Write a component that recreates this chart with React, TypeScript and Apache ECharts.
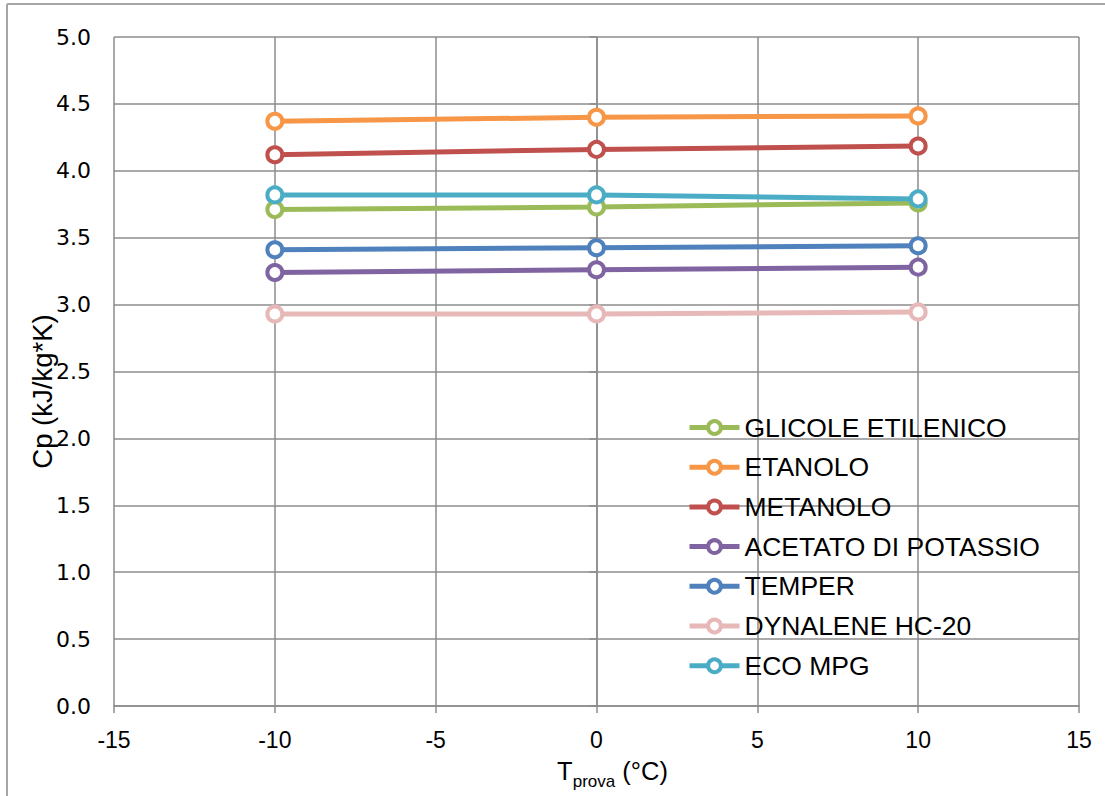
import React, { useEffect, useRef } from "react";
import * as echarts from "echarts";

// Test temperatures (°C)
const temperatures = [-10, 0, 10];

// Specific heat Cp (kJ/kg*K) per fluid
const glicoleEtilenico = [3.71, 3.73, 3.76];
const etanolo = [4.37, 4.40, 4.41];
const metanolo = [4.12, 4.16, 4.185];
const acetatoDiPotassio = [3.24, 3.26, 3.28];
const temper = [3.41, 3.425, 3.44];
const dynalene = [2.93, 2.93, 2.945];
const ecoMpg = [3.82, 3.82, 3.79];

const seriesDefs = [
  { name: "GLICOLE ETILENICO", values: glicoleEtilenico, color: "#9BBB59" },
  { name: "ETANOLO", values: etanolo, color: "#F79646" },
  { name: "METANOLO", values: metanolo, color: "#C0504D" },
  { name: "ACETATO DI POTASSIO", values: acetatoDiPotassio, color: "#8064A2" },
  { name: "TEMPER", values: temper, color: "#4F81BD" },
  { name: "DYNALENE HC-20", values: dynalene, color: "#E6B9B8" },
  { name: "ECO MPG", values: ecoMpg, color: "#4BACC6" },
];

const FONT = "'Liberation Sans', Arial, sans-serif";
const WIDE_FONT = "'DejaVu Sans', Verdana, sans-serif";
const GRID_COLOR = "#8c8c8c";

export default function App() {
  const ref = useRef<HTMLDivElement>(null);

  useEffect(() => {
    if (!ref.current) return;
    const chart = echarts.init(ref.current, undefined, { renderer: "svg" });

    chart.setOption({
      animation: false,
      backgroundColor: "#ffffff",
      textStyle: { fontFamily: FONT },
      grid: { left: 114, right: 26, top: 37, bottom: 90, containLabel: false },
      graphic: [
        {
          type: "line",
          shape: { x1: 7, y1: 4, x2: 7, y2: 796 },
          style: { stroke: "#a6a6a6", lineWidth: 2 },
        },
        {
          type: "line",
          shape: { x1: 7, y1: 4, x2: 1105, y2: 4 },
          style: { stroke: "#a6a6a6", lineWidth: 2 },
        },
      ],
      legend: {
        orient: "vertical",
        left: 682,
        top: 409,
        itemWidth: 50,
        itemHeight: 16,
        itemGap: 12.7,
        lineStyle: { width: 5 },
        itemStyle: { borderWidth: 4 },
        textStyle: { fontSize: 26.5, color: "#000", fontFamily: FONT },
        data: seriesDefs.map((s) => s.name),
      },
      xAxis: {
        type: "value",
        min: -15,
        max: 15,
        interval: 5,
        name: "{t|T}{s|prova}{t| (°C)}",
        nameLocation: "middle",
        nameGap: 50,
        nameTextStyle: {
          padding: [0, 0, 0, 32],
          rich: {
            t: { fontSize: 25.5, color: "#000", fontFamily: FONT, lineHeight: 28, verticalAlign: "bottom" },
            s: { fontSize: 17, color: "#000", fontFamily: FONT, lineHeight: 28, verticalAlign: "bottom", padding: [0, 0, -6, 0] },
          },
        },
        axisLine: { show: true, onZero: false, lineStyle: { color: GRID_COLOR, width: 1.5 } },
        axisTick: { show: true, length: 7, lineStyle: { color: GRID_COLOR, width: 1.5 } },
        axisLabel: { fontSize: 23, color: "#000", margin: 22, fontFamily: FONT },
        splitLine: { show: true, lineStyle: { color: GRID_COLOR, width: 1.5 } },
      },
      yAxis: {
        type: "value",
        min: 0,
        max: 5,
        interval: 0.5,
        name: "Cp (kJ/kg*K)",
        nameLocation: "middle",
        nameGap: 58,
        nameMoveOverlap: false,
        nameRotate: 90,
        nameTextStyle: { fontSize: 27.5, color: "#000", fontFamily: FONT, padding: [0, 0, 0, -40] },
        axisLine: { show: true, lineStyle: { color: GRID_COLOR, width: 1.5 } },
        axisTick: { show: true, length: 7, lineStyle: { color: GRID_COLOR, width: 1.5 } },
        axisLabel: {
          fontSize: 22,
          color: "#000",
          margin: 23,
          fontFamily: WIDE_FONT,
          formatter: (v: number) => v.toFixed(1),
        },
        splitLine: { show: true, lineStyle: { color: GRID_COLOR, width: 1.5 } },
      },
      series: seriesDefs.map((s) => ({
        name: s.name,
        type: "line",
        data: temperatures.map((t, i) => [t, s.values[i]]),
        symbol: "circle",
        symbolSize: 15,
        lineStyle: { color: s.color, width: 5 },
        itemStyle: { color: "#ffffff", borderColor: s.color, borderWidth: 4 },
        emphasis: { disabled: true },
      })),
    });

    return () => chart.dispose();
  }, []);

  return (
    <div
      ref={ref}
      style={{ position: "fixed", left: 0, top: 0, width: 1105, height: 796 }}
    />
  );
}
